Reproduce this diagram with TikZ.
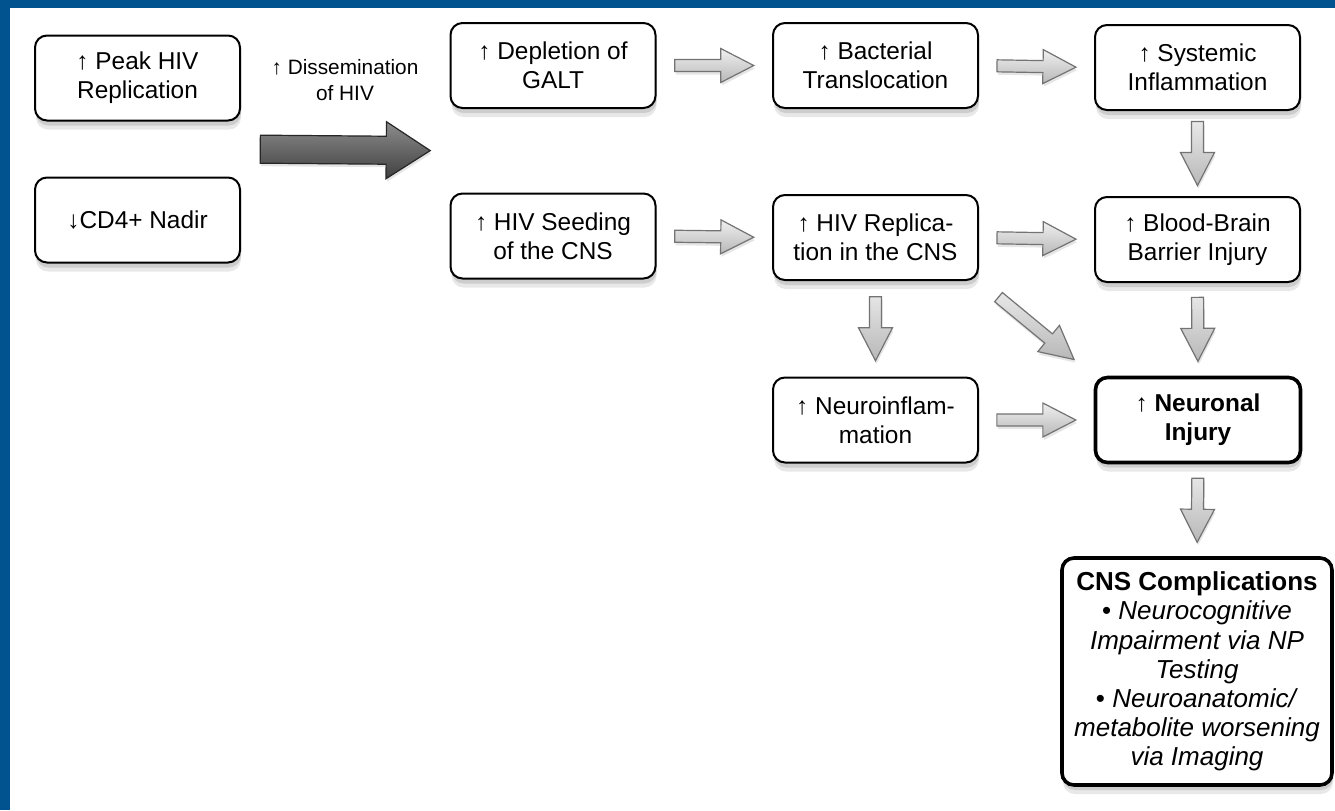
\documentclass[tikz,border=0pt]{standalone}
\usepackage{fontspec}
\setmainfont{Liberation Sans}
\usepackage{tikz}
\usetikzlibrary{calc,shadows}
\definecolor{frameBlue}{RGB}{0,83,143}

\begin{document}
\begin{tikzpicture}[x=0.5pt, y=-0.5pt,
        box/.style={draw, line width=1pt, rounded corners=6pt, fill=white, align=center,
          minimum width=102.5pt, minimum height=42.5pt, inner sep=2pt,
          font=\fontsize{12.2}{14.5}\selectfont,
          drop shadow={shadow xshift=0.5pt, shadow yshift=-4.5pt, opacity=0.18},
          drop shadow={shadow xshift=0.5pt, shadow yshift=-2.5pt, opacity=0.25}},
        keybox/.style={box, line width=1.8pt},
        lbl/.style={align=center, font=\fontsize{10.4}{13}\selectfont},
        fat dims/.code n args={4}{\def\fatlen{#1}\def\fatw{#2}\def\fath{#3}\def\fathl{#4}},
        fat len/.code={\def\fatlen{#1}},
        fat/.style={fat dims={39.5pt}{3pt}{8.5pt}{16.5pt}, line width=0.6pt, draw=black!55,
          top color=black!6, bottom color=black!28, line join=miter,
          drop shadow={shadow xshift=0.5pt, shadow yshift=-1.5pt, opacity=0.2},
          to path={let \p1=(\tikztostart), \p2=(\tikztotarget),
            \n1={atan2(\y2-\y1,\x2-\x1)}, \n2={veclen(\x2-\x1,\y2-\y1)} in
            [shift={(\p1)}, rotate=\n1]
            ({(\n2-\fatlen)/2},{\fatw}) -- ({(\n2+\fatlen)/2-\fathl},{\fatw})
            -- ({(\n2+\fatlen)/2-\fathl},{\fath}) -- ({(\n2+\fatlen)/2},0pt)
            -- ({(\n2+\fatlen)/2-\fathl},{-\fath}) -- ({(\n2+\fatlen)/2-\fathl},{-\fatw})
            -- ({(\n2-\fatlen)/2},{-\fatw}) -- cycle}},
        bigfat/.style={fat, fat dims={85pt}{7pt}{14.25pt}{22pt}, draw=black!85,
          top color=black!45, bottom color=black!75},
      ]
        \useasboundingbox (0,0) rectangle (1335,810);
        % frame
        \fill[frameBlue] (0,0) rectangle (1335,810);
        \fill[white] (10,8) rectangle (1335,810);

        % starting factors
        \node[box] (peak) at (137.5,78) {↑ Peak HIV\\Replication};
        \node[box] (cd4) at (137.5,220) {↓CD4+ Nadir};
        \node[lbl] (dissem) at (345,80) {↑ Dissemination\\of HIV};

        % gut pathway
        \node[box] (galt) at (553,65.5) {↑ Depletion of\\GALT};
        \node[box] (bact) at (875.5,65.5) {↑ Bacterial\\Translocation};
        \node[box] (sys) at (1197.5,67.5) {↑ Systemic\\Inflammation};

        % CNS pathway
        \node[box] (seed) at (553,236) {↑ HIV Seeding\\of the CNS};
        \node[box] (rep) at (875.5,237.5) {↑ HIV Replica-\\tion in the CNS};
        \node[box] (bbb) at (1197.5,239.5) {↑ Blood-Brain\\Barrier Injury};
        \node[box] (neuro) at (875.5,420) {↑ Neuroinflam-\\mation};
        \node[keybox] (neur) at (1198,420) {↑ \textbf{Neuronal}\\\textbf{Injury}};

        % outcome
        \node[keybox, minimum width=135pt, minimum height=113.5pt,
          font=\fontsize{13}{14.6}\selectfont] (cns) at (1197,671.5)
          {\textbf{CNS Complications}\\• \textit{Neurocognitive}\\\textit{Impairment via NP}\\
           \textit{Testing}\\• \textit{Neuroanatomic/}\\\textit{metabolite worsening}\\
           \textit{via Imaging}};

        % big arrow
        \coordinate (src) at ($(peak.east)!0.5!(cd4.east)$);
        \coordinate (dst) at ($(galt.west)!0.5!(seed.west)$);
        \draw[bigfat] (src) to (dst);

        % block arrows
        \draw[fat] (galt.east) to (bact.west);
        \draw[fat] (bact.east) to (sys.west);
        \draw[fat] (seed.east) to (rep.west);
        \draw[fat] (rep.east) to (bbb.west);
        \draw[fat] (neuro.east) to (neur.west);
        \draw[fat, fat len=32pt] (sys.south) to (bbb.north);
        \draw[fat, fat len=32pt] (rep.south) to (neuro.north);
        \draw[fat, fat len=32pt] (bbb.south) to (neur.north);
        \draw[fat, fat len=32pt] (neur.south) to (cns.north);
        \draw[fat, fat len=49pt] (rep.south east) to (neur.north west);
      \end{tikzpicture}
\end{document}
